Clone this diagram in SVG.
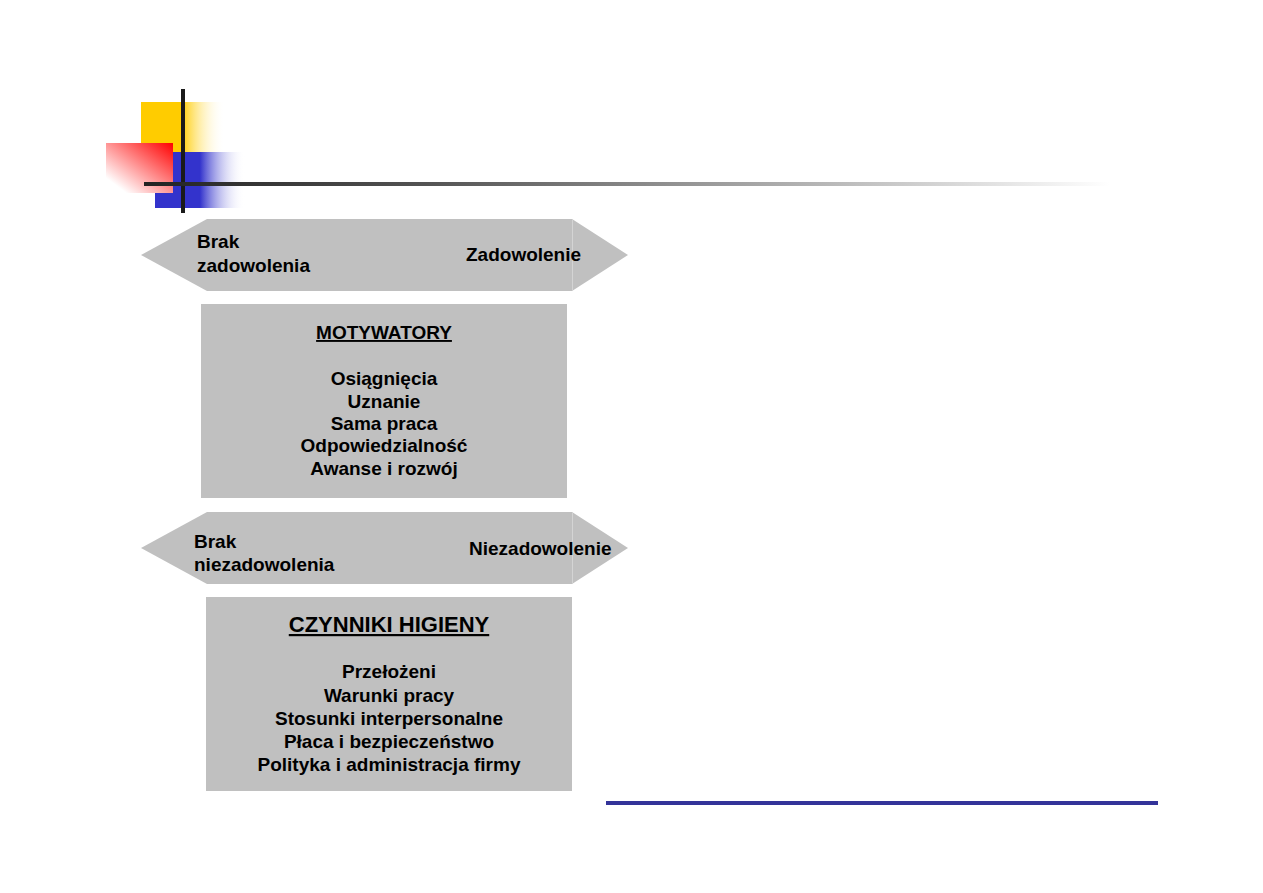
<svg xmlns="http://www.w3.org/2000/svg" width="1263" height="893" viewBox="0 0 1263 893">
<defs>
<linearGradient id="gY" x1="0" y1="0" x2="1" y2="0">
<stop offset="0" stop-color="#ffcc00"/><stop offset="0.48" stop-color="#ffcc00"/><stop offset="1" stop-color="#ffffff" stop-opacity="0"/>
</linearGradient>
<linearGradient id="gR" x1="1" y1="0" x2="0" y2="1">
<stop offset="0" stop-color="#ff0000"/><stop offset="0.85" stop-color="#ffffff"/><stop offset="1" stop-color="#ffffff"/>
</linearGradient>
<linearGradient id="gB" x1="0" y1="0" x2="1" y2="0">
<stop offset="0" stop-color="#3333cc"/><stop offset="0.5" stop-color="#3333cc"/><stop offset="1" stop-color="#ffffff" stop-opacity="0"/>
</linearGradient>
<linearGradient id="gL" x1="0" y1="0" x2="1" y2="0">
<stop offset="0" stop-color="#222222"/><stop offset="0.3" stop-color="#555555"/><stop offset="1" stop-color="#ffffff"/>
</linearGradient>
<style>
.shape{fill:#c0c0c0;}
.t{font-family:"Liberation Sans",Arial,sans-serif;font-weight:bold;font-size:19px;fill:#000;}
.c{text-anchor:middle;}
.h{text-decoration:underline;}
</style>
</defs>
<g id="logo">
<rect x="141" y="102" width="84" height="50" fill="url(#gY)"/>
<rect x="155" y="152" width="90" height="56" fill="url(#gB)"/>
<rect x="106" y="143" width="67" height="50" fill="url(#gR)"/>
<rect x="181" y="89" width="4" height="124" fill="#1a1a1a"/>
<rect x="144" y="182" width="966" height="4" fill="url(#gL)"/>
</g>
<g id="arrow1">
<polygon class="shape" points="141,255 207,219 572,219 628,255 572,291 207,291"/>
<line x1="572.5" y1="219" x2="572.5" y2="291" stroke="#d4d4d4" stroke-width="1"/>
<text class="t" x="197" y="248">Brak</text>
<text class="t" x="197" y="272">zadowolenia</text>
<text class="t" x="466" y="261">Zadowolenie</text>
</g>
<g id="motywatory">
<rect class="shape" x="201" y="304" width="366" height="194"/>
<text class="t c h" x="384" y="339">MOTYWATORY</text>
<text class="t c" x="384" y="385">Osiągnięcia</text>
<text class="t c" x="384" y="408">Uznanie</text>
<text class="t c" x="384" y="430">Sama praca</text>
<text class="t c" x="384" y="452">Odpowiedzialność</text>
<text class="t c" x="384" y="475">Awanse i rozwój</text>
</g>
<g id="arrow2">
<polygon class="shape" points="141,548 207,512 572,512 628,548 572,584 207,584"/>
<line x1="572.5" y1="512" x2="572.5" y2="584" stroke="#d4d4d4" stroke-width="1"/>
<text class="t" x="194" y="548">Brak</text>
<text class="t" x="194" y="571">niezadowolenia</text>
<text class="t" x="469" y="555">Niezadowolenie</text>
</g>
<g id="higiena">
<rect class="shape" x="206" y="597" width="366" height="194"/>
<text class="t c h" x="389" y="632" style="font-size:22px">CZYNNIKI HIGIENY</text>
<text class="t c" x="389" y="678">Przełożeni</text>
<text class="t c" x="389" y="702">Warunki pracy</text>
<text class="t c" x="389" y="725">Stosunki interpersonalne</text>
<text class="t c" x="389" y="748">Płaca i bezpieczeństwo</text>
<text class="t c" x="389" y="771">Polityka i administracja firmy</text>
</g>
<g id="connectors"></g>
<rect id="footer-line" x="606" y="801" width="552" height="4" fill="#333399"/>
</svg>
